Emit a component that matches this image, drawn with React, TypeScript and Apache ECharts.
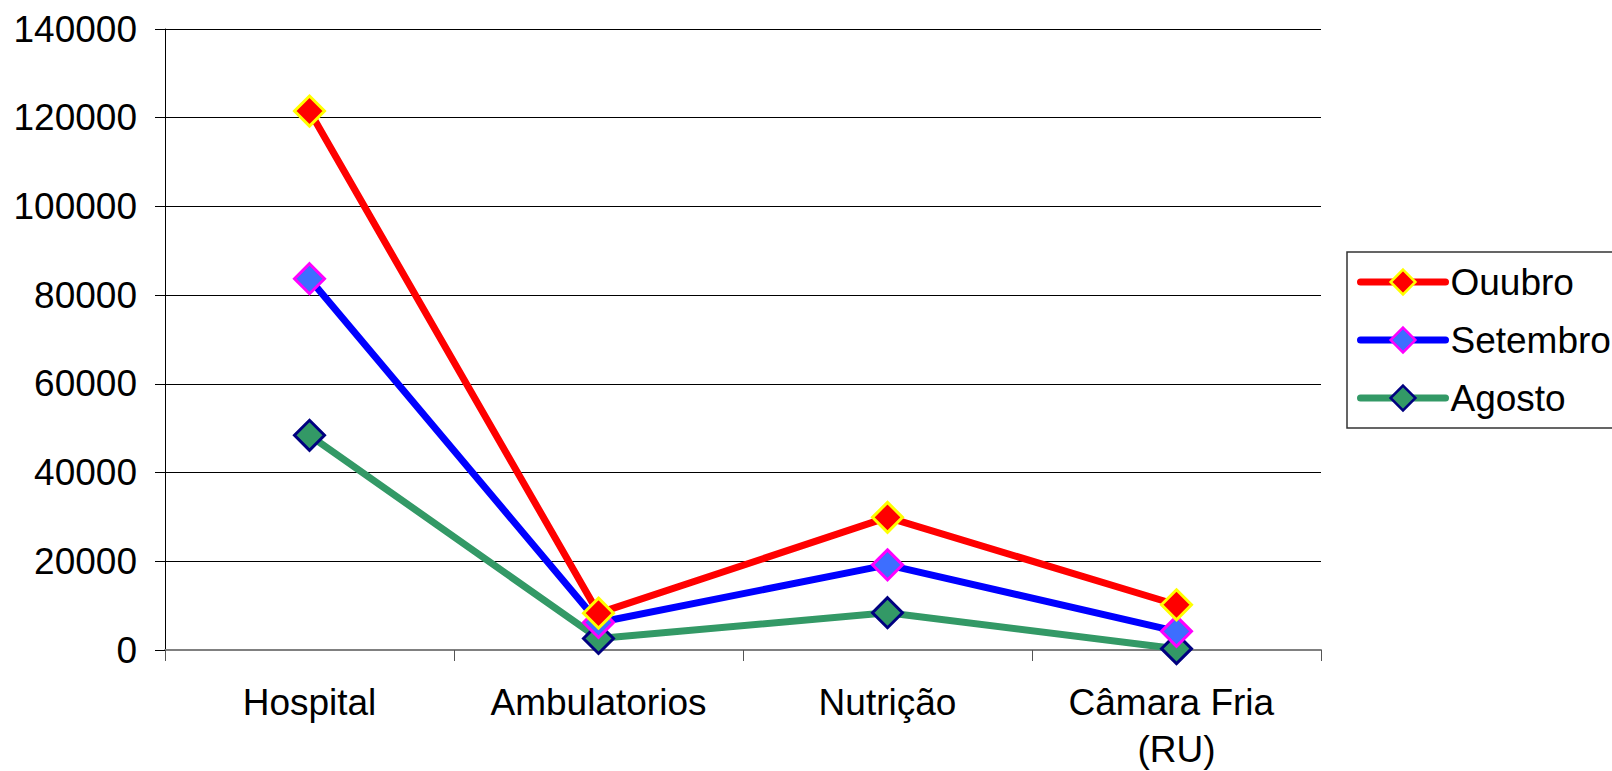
import React, { useEffect, useRef } from "react";
import * as echarts from "echarts";

const categories = ["Hospital", "Ambulatorios", "Nutrição", "Câmara Fria (RU)"];
const yTicks = { min: 0, max: 140000, interval: 20000 };
const outubro = [121500, 8300, 29900, 10200];
const setembro = [83700, 6200, 19200, 4200];
const agosto = [48400, 2600, 8400, 300];
const seriesNames = ["Ouubro", "Setembro", "Agosto"];

const FONT = "'Liberation Sans', Arial, Helvetica, sans-serif";

export default function App() {
  const ref = useRef<HTMLDivElement>(null);
  useEffect(() => {
    if (!ref.current) return;
    const chart = echarts.init(ref.current, undefined, { renderer: "svg" });
    const mk = (name: string, data: number[], line: string, fill: string, border: string) => ({
      name,
      type: "line",
      data,
      symbol: "diamond",
      symbolSize: 30,
      lineStyle: { color: line, width: 7 },
      itemStyle: { color: fill, borderColor: border, borderWidth: 3 },
      emphasis: { disabled: true },
    });
    chart.setOption({
      animation: false,
      textStyle: { fontFamily: FONT },
      grid: {
        left: 165,
        top: 29,
        right: 291,
        bottom: 121,
        containLabel: false,
        outerBoundsMode: "none",
      },
      legend: {
        data: seriesNames,
        orient: "vertical",
        left: 1347,
        top: 252,
        padding: [10, 4, 10, 10],
        itemGap: 18,
        itemWidth: 85,
        itemHeight: 31,
        borderColor: "#333",
        borderWidth: 1.5,
        borderRadius: 0,
        lineStyle: { width: 7, cap: "round" },
        itemStyle: { borderWidth: 2.5 },
        textStyle: { fontSize: 37, color: "#000", fontFamily: FONT, lineHeight: 40 },
        selectedMode: false,
      },
      xAxis: {
        type: "category",
        data: categories,
        boundaryGap: true,
        axisLine: { lineStyle: { color: "#808080", width: 2 } },
        axisTick: { show: true, length: 11, lineStyle: { color: "#555", width: 1 } },
        axisLabel: {
          fontSize: 37,
          color: "#000",
          fontFamily: FONT,
          margin: 29,
          lineHeight: 47,
          width: 280,
          overflow: "break",
          interval: 0,
        },
        splitLine: { show: false },
      },
      yAxis: {
        type: "value",
        min: yTicks.min,
        max: yTicks.max,
        interval: yTicks.interval,
        axisLine: { show: true, lineStyle: { color: "#000", width: 1 } },
        axisTick: { show: true, length: 10, lineStyle: { color: "#000", width: 1 } },
        axisLabel: {
          fontSize: 37,
          color: "#000",
          fontFamily: FONT,
          margin: 28,
          formatter: (v: number) => String(v),
        },
        splitLine: { show: true, lineStyle: { color: "#000", width: 1 } },
      },
      series: [
        mk(seriesNames[2], agosto, "#339966", "#339966", "#000080"),
        mk(seriesNames[1], setembro, "#0000FF", "#3D6EFF", "#FF00FF"),
        mk(seriesNames[0], outubro, "#FF0000", "#FF0000", "#FFFF00"),
      ],
    });
    return () => chart.dispose();
  }, []);
  return <div ref={ref} style={{ width: 1612, height: 771, position: "absolute", left: 0, top: 0 }} />;
}
